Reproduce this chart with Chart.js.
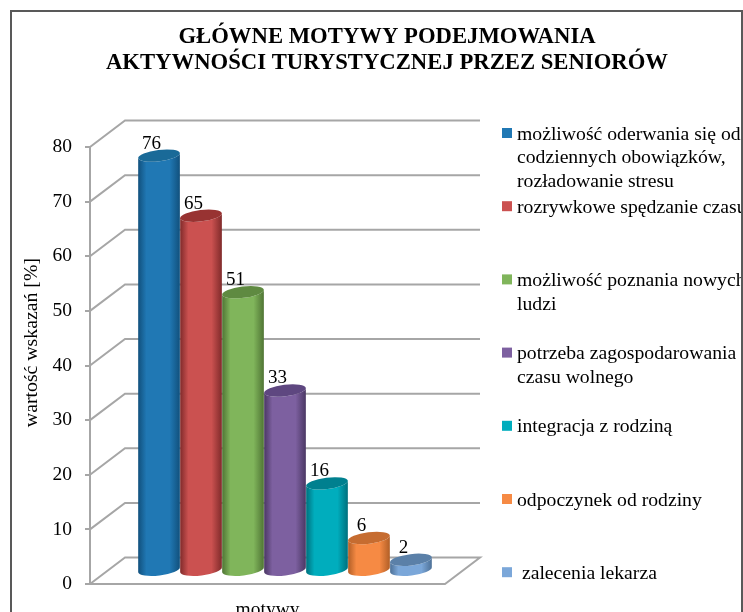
<!DOCTYPE html>
<html lang="pl">
<head>
  <meta charset="UTF-8">
  <title>Główne motywy podejmowania aktywności turystycznej przez seniorów</title>
  <script src="https://cdn.jsdelivr.net/npm/chart.js"></script>
  <style>
    body { margin: 0; background: #fff; }
    canvas { display: block; }
  </style>
</head>
<body>
  <canvas id="chart" width="743" height="612"></canvas>
  <script>
    const titleLines = ['GŁÓWNE MOTYWY PODEJMOWANIA', 'AKTYWNOŚCI TURYSTYCZNEJ PRZEZ SENIORÓW'];
    const yAxisTitle = 'wartość wskazań [%]';
    const categories = ['motywy'];
    const seriesLabels = [
      ['możliwość oderwania się od', 'codziennych obowiązków,', 'rozładowanie stresu'],
      ['rozrywkowe spędzanie czasu'],
      ['możliwość poznania nowych', 'ludzi'],
      ['potrzeba zagospodarowania', 'czasu wolnego'],
      ['integracja z rodziną'],
      ['odpoczynek od rodziny'],
      [' zalecenia lekarza']
    ];
    const seriesValues = [76, 65, 51, 33, 16, 6, 2];
    const yTicks = [0, 10, 20, 30, 40, 50, 60, 70, 80];

    const sideColors = ['#2078b4', '#cb5150', '#80b55b', '#7d60a0', '#00adbd', '#f68a44', '#7ba7d9'];
    const edgeColors = ['#11507c', '#7f2a2a', '#4f7434', '#4a3763', '#006f7c', '#b05e26', '#4d7096'];
    const topColors = ['#1a6a98', '#983332', '#5f8a41', '#5e4780', '#00808f', '#c66c30', '#5b80a8'];

    const FONT = '"Liberation Serif", "Times New Roman", serif';
    const GRID = '#a6a6a6';
    const DEPTH_X = 35, DEPTH_Y = 26.5;  // shift of the back wall
    const BAR_RY = 5.7, BAR_TILT = -0.12;

    const wallPlugin = {
      id: 'wall',
      beforeDatasetsDraw(chart) {
        const { ctx, chartArea: a, scales: { y } } = chart;
        ctx.save();
        ctx.strokeStyle = GRID;
        ctx.lineWidth = 2;
        yTicks.forEach(v => {
          const py = y.getPixelForValue(v);
          ctx.beginPath();
          ctx.moveTo(a.left, py);
          ctx.lineTo(a.left + DEPTH_X, py - DEPTH_Y);
          ctx.lineTo(a.right + DEPTH_X, py - DEPTH_Y);
          if (v === 0) {
            ctx.lineTo(a.right, py);
            ctx.lineTo(a.left, py);
          }
          ctx.stroke();
        });
        ctx.restore();
      },
      // cylinders instead of the flat bars, standing in the middle of the floor
      beforeDatasetDraw(chart, args) {
        const { ctx } = chart;
        const i = args.index;
        const bar = args.meta.data[0];
        const cx = bar.x + DEPTH_X / 2;
        const top = bar.y - DEPTH_Y / 2;
        const bottom = bar.base - DEPTH_Y / 2;
        const rx = bar.width / 2;
        ctx.save();
        const g = ctx.createLinearGradient(cx - rx, 0, cx + rx, 0);
        g.addColorStop(0, edgeColors[i]);
        g.addColorStop(0.2, sideColors[i]);
        g.addColorStop(0.75, sideColors[i]);
        g.addColorStop(1, edgeColors[i]);
        ctx.fillStyle = g;
        ctx.beginPath();
        ctx.ellipse(cx, top, rx, BAR_RY, BAR_TILT, Math.PI, 0, true);
        ctx.ellipse(cx, bottom, rx, BAR_RY, BAR_TILT, 0, Math.PI, false);
        ctx.closePath();
        ctx.fill();
        ctx.fillStyle = topColors[i];
        ctx.beginPath();
        ctx.ellipse(cx, top, rx, BAR_RY, BAR_TILT, 0, Math.PI * 2);
        ctx.fill();
        ctx.restore();
        return false;
      },
      afterDraw(chart) {
        const { ctx, scales: { y }, height } = chart;
        ctx.save();

        // frame, the bottom edge is outside the picture
        ctx.strokeStyle = '#595959';
        ctx.lineWidth = 2;
        ctx.beginPath();
        ctx.moveTo(11, height);
        ctx.lineTo(11, 11);
        ctx.lineTo(742, 11);
        ctx.lineTo(742, height);
        ctx.stroke();

        ctx.fillStyle = '#000';
        ctx.textBaseline = 'middle';

        ctx.textAlign = 'center';
        ctx.font = 'bold 22.7px ' + FONT;
        titleLines.forEach((t, n) => ctx.fillText(t, 387, 37 + n * 26));

        // value labels
        ctx.font = '19px ' + FONT;
        seriesValues.forEach((v, i) => {
          const bar = chart.getDatasetMeta(i).data[0];
          ctx.fillText(String(v), bar.x + DEPTH_X / 2 - 7.5, bar.y - DEPTH_Y / 2 - 12);
        });

        // y axis title sits above the middle of the axis in the original
        ctx.save();
        ctx.translate(32, y.getPixelForValue(44.2));
        ctx.rotate(-Math.PI / 2);
        ctx.font = '19.8px ' + FONT;
        ctx.fillText(yAxisTitle, 0, 0);
        ctx.restore();

        // legend, text runs under the frame on the right
        ctx.textAlign = 'left';
        ctx.font = '19.7px ' + FONT;
        ctx.beginPath();
        ctx.rect(0, 0, 741, height);
        ctx.clip();
        seriesLabels.forEach((lines, i) => {
          const ly = 133 + i * 73.2;
          ctx.fillStyle = sideColors[i];
          ctx.fillRect(502, ly - 5, 10, 10);
          ctx.fillStyle = '#000';
          lines.forEach((t, n) => ctx.fillText(t, 517, ly + 1.5 + n * 23.5));
        });
        ctx.restore();
      }
    };

    new Chart(document.getElementById('chart'), {
      type: 'bar',
      data: {
        labels: categories,
        datasets: seriesValues.map((v, i) => ({
          label: seriesLabels[i].join(' ').trim(),
          data: [v],
          backgroundColor: sideColors[i]
        }))
      },
      options: {
        responsive: false,
        animation: false,
        layout: { padding: { left: 20, right: 298, top: 147, bottom: 0 } },
        datasets: { bar: { categoryPercentage: 0.828, barPercentage: 1 } },
        plugins: {
          legend: { display: false },
          tooltip: { enabled: false }
        },
        scales: {
          x: {
            grid: { display: false },
            border: { display: false },
            ticks: { color: '#000', font: { family: FONT, size: 19.5 }, padding: 6 },
            afterFit(scale) { scale.height = 28; }
          },
          y: {
            min: 0,
            max: 80,
            grid: { drawOnChartArea: false, color: GRID, lineWidth: 2, tickLength: 5 },
            border: { color: GRID, width: 2 },
            ticks: {
              stepSize: 10,
              color: '#000',
              padding: 13,
              font: { family: FONT, size: 19.5 }
            },
            afterFit(scale) { scale.width = 70; }
          }
        }
      },
      plugins: [wallPlugin]
    });
  </script>
</body>
</html>
